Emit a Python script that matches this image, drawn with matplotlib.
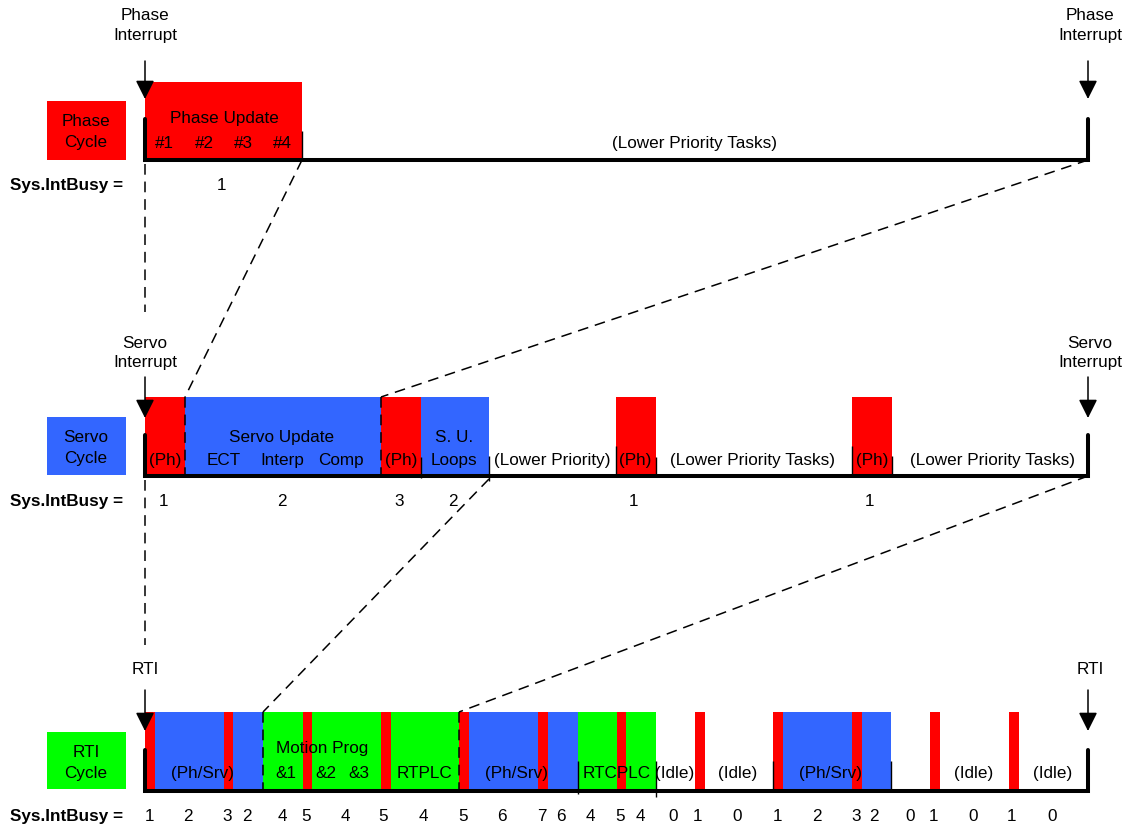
import matplotlib
matplotlib.use('Agg')
import matplotlib.pyplot as plt

plt.rcParams['font.family'] = ['Liberation Sans', 'DejaVu Sans']

# ---------------- data ----------------
KIND_COLORS = {'ph': '#FF0000', 'srv': '#3366FF', 'rti': '#00FF00'}

CYCLE_START = 145
CYCLE_END = 1088

# tasks: start, end, kind (time measured on the common diagram axis)
PHASE_TASKS = [(145, 302, 'ph')]
SERVO_TASKS = [(145, 185, 'ph'), (185, 381, 'srv'), (381, 421, 'ph'), (421, 489, 'srv'),
               (616, 656, 'ph'), (852, 892, 'ph')]
RTI_TASKS = [(145, 155, 'ph'), (155, 224, 'srv'), (224, 233, 'ph'), (233, 263, 'srv'),
             (263, 303, 'rti'), (303, 312, 'ph'), (312, 381, 'rti'), (381, 391, 'ph'),
             (391, 459, 'rti'), (459, 469, 'ph'), (469, 538, 'srv'), (538, 548, 'ph'),
             (548, 578, 'srv'), (578, 617, 'rti'), (617, 626, 'ph'), (626, 656, 'rti'),
             (695, 705, 'ph'), (773, 783, 'ph'), (783, 852, 'srv'), (852, 862, 'ph'),
             (862, 891, 'srv'), (930, 940, 'ph'), (1009, 1019, 'ph')]

# task labels: centre time, text, line (1 = upper, 2 = lower)
PHASE_LABELS = [(224, 'Phase Update', 1), (164, '#1', 2), (204, '#2', 2), (243, '#3', 2),
                (282, '#4', 2), (695, '(Lower Priority Tasks)', 2)]
SERVO_LABELS = [(165, '(Ph)', 2), (282, 'Servo Update', 1), (224, 'ECT', 2), (282, 'Interp', 2),
                (341, 'Comp', 2), (401, '(Ph)', 2), (454, 'S. U.', 1), (454, 'Loops', 2),
                (552, '(Lower Priority)', 2), (635, '(Ph)', 2), (753, '(Lower Priority Tasks)', 2),
                (872, '(Ph)', 2), (992, '(Lower Priority Tasks)', 2)]
RTI_LABELS = [(203, '(Ph/Srv)', 2), (322, 'Motion Prog', 1), (286, '&1', 2), (326, '&2', 2),
              (359, '&3', 2), (425, 'RTPLC', 2), (517, '(Ph/Srv)', 2), (617, 'RTCPLC', 2),
              (675, '(Idle)', 2), (738, '(Idle)', 2), (830, '(Ph/Srv)', 2), (974, '(Idle)', 2),
              (1053, '(Idle)', 2)]

# Sys.IntBusy values
PHASE_BUSY_X = [222]
PHASE_BUSY = ['1']
SERVO_BUSY_X = [163, 282, 399, 453, 634, 870]
SERVO_BUSY = ['1', '2', '3', '2', '1', '1']
RTI_BUSY_X = [149, 188, 227, 247, 282, 306, 345, 383, 423, 463, 502, 542, 561, 590, 620, 640,
              673, 698, 737, 777, 817, 856, 874, 910, 933, 973, 1012, 1052]
RTI_BUSY = ['1', '2', '3', '2', '4', '5', '4', '5', '4', '5', '6', '7', '6', '4', '5', '4',
            '0', '1', '0', '1', '2', '3', '2', '0', '1', '0', '1', '0']

# task boundaries
SERVO_DASHED = [185, 381]
SERVO_MARKS = [421, 489, 616, 656, 852, 892]
RTI_DASHED = [263, 459]
RTI_MARKS = [578, 656, 773, 891]
PHASE_MARKS = [302]

# ---------------- layout ----------------
FS = 12.3
fig = plt.figure(figsize=(11.25, 8.26), dpi=100)
ax = fig.add_axes([0, 0, 1, 1])
ax.set_xlim(0, 1125)
ax.set_ylim(826, 0)
ax.axis('off')

DASH = (0, (7, 4.5))
DLW = 1.1

rows = [
    dict(tasks=PHASE_TASKS, labels=PHASE_LABELS, bx=PHASE_BUSY_X, bv=PHASE_BUSY,
         base=160, top=82, l1=123, l2=148, busy=190, tick_top=119,
         box=(101, 160), box_text=('Phase', 'Cycle'), box_color=KIND_COLORS['ph'],
         box_bl=(126, 147), irq=('Phase', 'Interrupt'), irq_bl=(20, 40), arrow=(61, 99),
         dashed=[], marks=PHASE_MARKS, mark_tops=[131], mark_bots=[160]),
    dict(tasks=SERVO_TASKS, labels=SERVO_LABELS, bx=SERVO_BUSY_X, bv=SERVO_BUSY,
         base=476, top=397, l1=442, l2=465, busy=506, tick_top=435,
         box=(417, 475), box_text=('Servo', 'Cycle'), box_color=KIND_COLORS['srv'],
         box_bl=(442, 463), irq=('Servo', 'Interrupt'), irq_bl=(348, 367), arrow=(377, 418),
         dashed=SERVO_DASHED, marks=SERVO_MARKS,
         mark_tops=[457, 456, 446, 457, 446, 456], mark_bots=[478, 481, 476, 476, 476, 476]),
    dict(tasks=RTI_TASKS, labels=RTI_LABELS, bx=RTI_BUSY_X, bv=RTI_BUSY,
         base=791, top=712, l1=753, l2=778, busy=821, tick_top=750,
         box=(732, 789), box_text=('RTI', 'Cycle'), box_color=KIND_COLORS['rti'],
         box_bl=(757, 778), irq=('RTI',), irq_bl=(674,), arrow=(690, 731),
         dashed=RTI_DASHED, marks=RTI_MARKS,
         mark_tops=[761, 761, 761, 761], mark_bots=[794, 797, 791, 791]),
]

for r in rows:
    starts = [t[0] for t in r['tasks']]
    widths = [t[1] - t[0] for t in r['tasks']]
    colors = [KIND_COLORS[t[2]] for t in r['tasks']]
    ax.bar(starts, [r['base'] - r['top']] * len(starts), width=widths, bottom=r['top'],
           align='edge', color=colors, linewidth=0, zorder=1)

    # label box
    b0, b1 = r['box']
    ax.bar([47], [b1 - b0], width=79, bottom=b0, align='edge', color=r['box_color'],
           linewidth=0, zorder=1)
    for t, yb in zip(r['box_text'], r['box_bl']):
        ax.text(86, yb, t, ha='center', va='baseline', fontsize=FS, zorder=5)

    # baseline with end ticks
    ax.plot([CYCLE_START, CYCLE_START, CYCLE_END, CYCLE_END],
            [r['tick_top'], r['base'], r['base'], r['tick_top']],
            color='black', lw=2.9, solid_joinstyle='miter', solid_capstyle='round', zorder=4)

    # boundaries
    for x in r['dashed']:
        ax.plot([x, x], [r['top'], r['base']], color='black', lw=DLW, ls=DASH, zorder=3)
    ax.vlines(r['marks'], r['mark_tops'], r['mark_bots'], color='black', lw=1.0, zorder=3)

    # labels
    for x, t, line in r['labels']:
        ax.text(x, r['l1'] if line == 1 else r['l2'], t, ha='center', va='baseline',
                fontsize=FS, zorder=5)

    # Sys.IntBusy
    ax.text(123, r['busy'], 'Sys.IntBusy =', ha='right', va='baseline', fontsize=FS,
            fontweight='bold', zorder=5)
    for x, v in zip(r['bx'], r['bv']):
        ax.text(x, r['busy'], v, ha='center', va='baseline', fontsize=FS, zorder=5)

    # interrupts
    for xe in (CYCLE_START, CYCLE_END):
        for t, yb in zip(r['irq'], r['irq_bl']):
            ax.text(xe + (2 if xe == CYCLE_END else 0), yb, t, ha='center', va='baseline',
                    fontsize=FS, zorder=5)
        ax.annotate('', xy=(xe, r['arrow'][1]), xytext=(xe, r['arrow'][0]),
                    arrowprops=dict(arrowstyle='-|>,head_length=0.6,head_width=0.3',
                                    mutation_scale=19, lw=1.1, color='black',
                                    shrinkA=0, shrinkB=0), zorder=6)

# zoom connectors between rows
ph, sv, rt = rows
ax.plot([CYCLE_START, CYCLE_START], [164, 312], color='black', lw=DLW, ls=DASH, zorder=2)
ax.plot([CYCLE_START, CYCLE_START], [480, 645], color='black', lw=DLW, ls=DASH, zorder=2)
ax.plot([PHASE_TASKS[0][1], SERVO_TASKS[0][1]], [ph['base'], sv['top']],
        color='black', lw=DLW, ls=DASH, zorder=2)
ax.plot([CYCLE_END, SERVO_TASKS[2][0]], [ph['base'], sv['top']],
        color='black', lw=DLW, ls=DASH, zorder=2)
ax.plot([SERVO_TASKS[3][1], RTI_DASHED[0]], [sv['base'] + 3, rt['top']],
        color='black', lw=DLW, ls=DASH, zorder=2)
ax.plot([CYCLE_END, RTI_DASHED[1]], [sv['base'], rt['top']],
        color='black', lw=DLW, ls=DASH, zorder=2)

fig.savefig('out.png', dpi=100)
